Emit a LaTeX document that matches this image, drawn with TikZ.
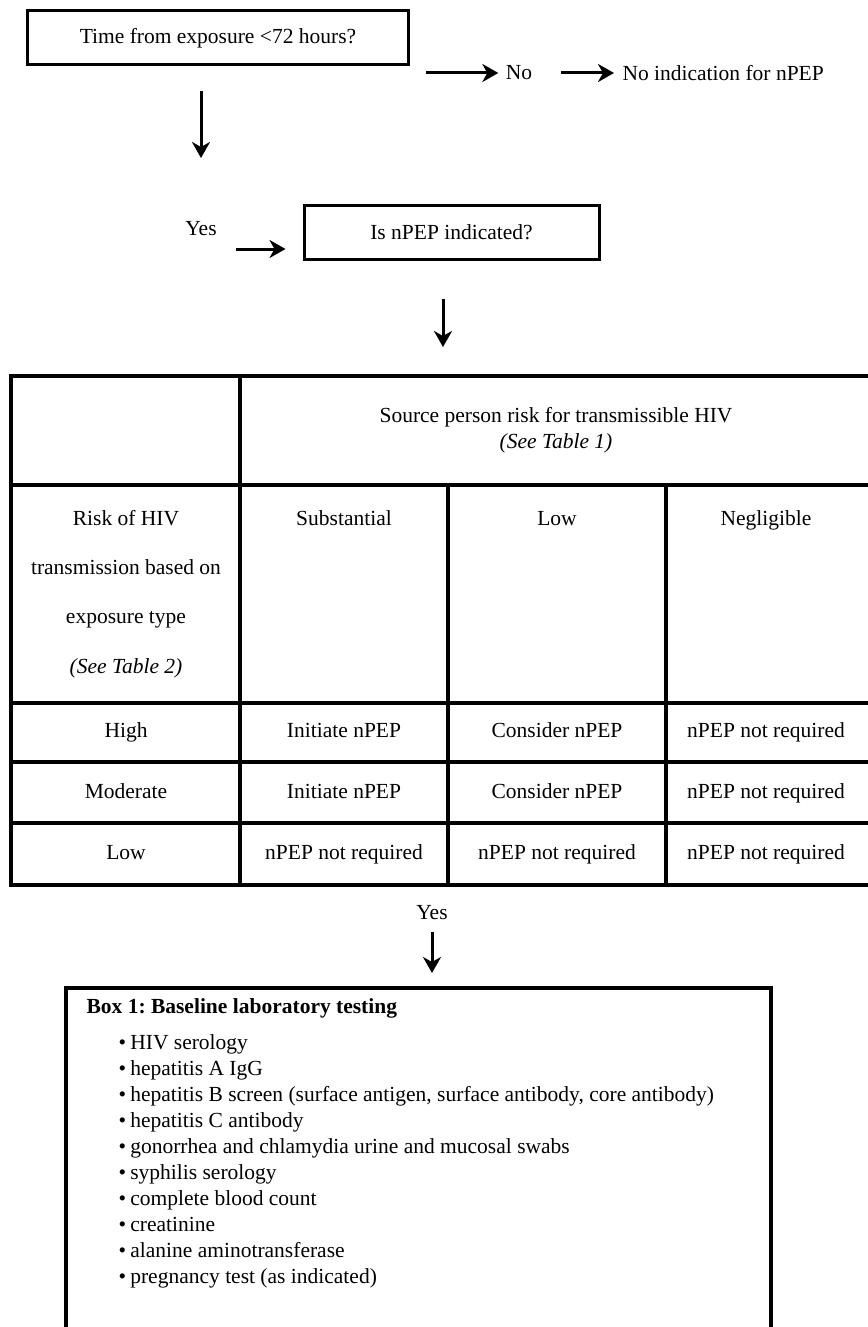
\documentclass[tikz,border=0pt]{standalone}
\usepackage{fontspec}
\setmainfont{Liberation Serif}
\usetikzlibrary{arrows.meta,positioning}
\frenchspacing

\begin{document}
\begin{tikzpicture}[
    x=1pt,y=-1pt,
    font=\fontsize{21.5}{26}\selectfont,
    qbox/.style={draw,line width=3pt,minimum height=54pt,inner sep=0pt},
    cell/.style={inner sep=0pt,text height=15pt,text depth=5pt},
    rule/.style={line width=4.5pt,line cap=rect},
    >={Stealth[length=16pt,width=18pt,inset=5pt]},
    arr/.style={->,line width=3pt}]
  \useasboundingbox (0,0) rectangle (867,1327);

  % questions
  \node[qbox,minimum width=381pt] (time) at (218,38) {Time from exposure <72 hours?};
  \node (no) at (519,73) {No};
  \node[anchor=west] (noind) at (619,73) {No indication for nPEP};
  \coordinate (noin) at (426,73);
  \draw[arr,shorten >=4pt] (noin) -- (no);
  \draw[arr,shorten <=25pt,shorten >=5pt] (no) -- (noind);
  \coordinate (yesbend) at (201,158);
  \draw[arr,shorten <=25pt] (time.south -| yesbend) -- (yesbend);

  \node (yes) at (201,229) {Yes};
  \node[qbox,minimum width=295pt] (ind) at (451.5,232) {Is nPEP indicated?};
  \coordinate (yesin) at (236,249);
  \draw[arr,shorten >=17pt] (yesin) -- (yesin -| ind.west);
  \coordinate (tabin) at (443,347);
  \draw[arr,shorten <=38pt] (ind.south -| tabin) -- (tabin);

  % risk table
  \foreach \y in {376,485,703,762,823,885}
    \draw[rule] (11,\y) -- (880,\y);
  \foreach \x in {11,240}
    \draw[rule] (\x,376) -- (\x,885);
  \foreach \x in {448,666}
    \draw[rule] (\x,485) -- (\x,885);

  \node[cell,align=center,text height=,text depth=] (src) at (556,430)
    {Source person risk for transmissible HIV\\\textit{(See Table 1)}};
  \node[cell,align=center,text height=,text depth=,font=\fontsize{21.5}{49.3}\selectfont] (exp) at (126,594)
    {Risk of HIV\\transmission based on\\exposure type\\\textit{(See Table 2)}};
  \node[cell] (subst) at (344,520) {Substantial};
  \node[cell] (lowsrc) at (557,520) {Low};
  \node[cell] (negl) at (766,520) {Negligible};
  \foreach \lvl/\ca/\cb/\cc [count=\i] in {
      High/Initiate nPEP/Consider nPEP/nPEP not required,
      Moderate/Initiate nPEP/Consider nPEP/nPEP not required,
      Low/nPEP not required/nPEP not required/nPEP not required} {
    \node[cell] (r\i c0) at (126,671+61*\i) {\lvl};
    \node[cell] (r\i c1) at (344,671+61*\i) {\ca};
    \node[cell] (r\i c2) at (557,671+61*\i) {\cb};
    \node[cell] (r\i c3) at (766,671+61*\i) {\cc};
  }

  % baseline tests
  \node (yes2) at (432,913) {Yes};
  \coordinate (labin) at (432,973);
  \draw[arr,shorten <=8pt] (yes2) -- (labin);
  \draw[line width=3.5pt] (66,1340) |- (771,988) -- (771,1340);
  \node[anchor=base west] (labtitle) at (83,1013) {\bfseries Box 1: Baseline laboratory testing};
  \foreach \test [count=\i] in {HIV serology, hepatitis A IgG,
      {hepatitis B screen (surface antigen, surface antibody, core antibody)},
      hepatitis C antibody, gonorrhea and chlamydia urine and mucosal swabs,
      syphilis serology, complete blood count, creatinine,
      alanine aminotransferase, {pregnancy test (as indicated)}}
    \node[anchor=base west] (test\i) at (115,1024+25.9*\i) {\textbullet\hspace{0.2em}\test};
\end{tikzpicture}
\end{document}
